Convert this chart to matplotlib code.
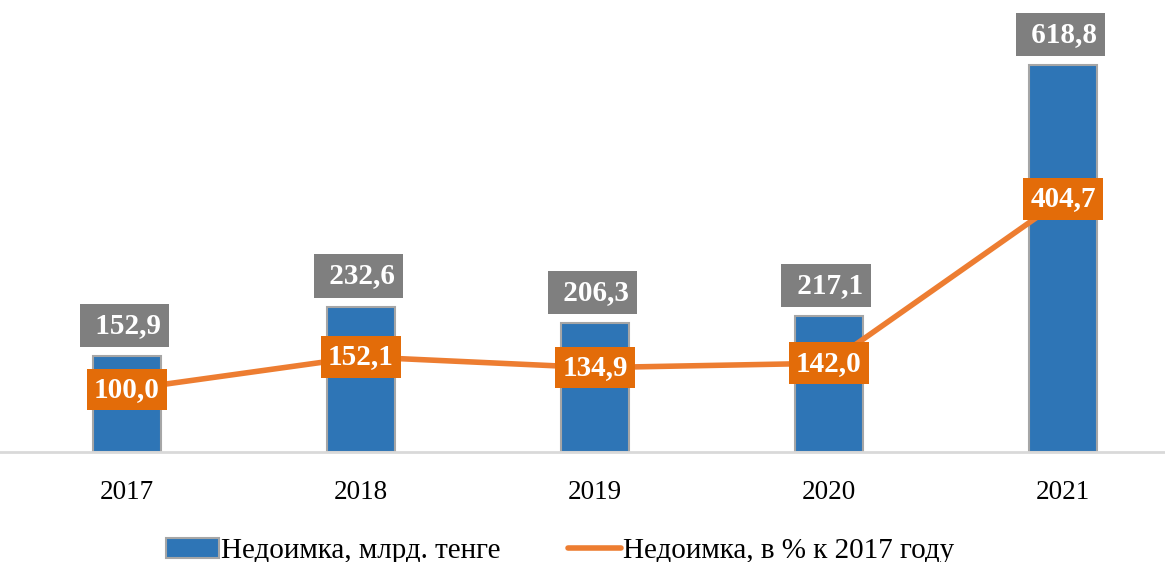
import matplotlib.pyplot as plt

years = ["2017", "2018", "2019", "2020", "2021"]
arrears_bn = [152.9, 232.6, 206.3, 217.1, 618.8]
arrears_pct = [100.0, 152.1, 134.9, 142.0, 404.7]

bar_color = "#2E75B6"
line_color = "#ED7D31"
pct_box_color = "#E36C09"
val_box_color = "#7F7F7F"

plt.rcParams['font.family'] = ['Liberation Serif', 'DejaVu Serif']

fig = plt.figure(figsize=(11.65, 5.62), dpi=100)
ax = fig.add_axes([0, 110 / 562, 1, 452 / 562])

x = list(range(len(years)))
bars = ax.bar(x, arrears_bn, width=0.29, color=bar_color, edgecolor="#A6A6A6",
              linewidth=1.5, label="Недоимка, млрд. тенге", zorder=2)
line, = ax.plot(x, arrears_pct, color=line_color, linewidth=4, solid_capstyle='round',
                label="Недоимка, в % к 2017 году", zorder=3)

def fmt(v):
    return f"{v:.1f}".replace(".", ",")

# gray value labels above the bars
for xi, v in zip(x, arrears_bn):
    ax.annotate(" " + fmt(v), (xi, v), xytext=(-2, 22), textcoords="offset points",
                ha="center", va="center", color="white", fontsize=21, fontweight="bold",
                bbox=dict(boxstyle="square,pad=0.28", fc=val_box_color, ec="none"), zorder=4)

# orange percentage labels on the line points
for xi, v in zip(x, arrears_pct):
    ax.annotate(fmt(v), (xi, v), xytext=(0, 0), textcoords="offset points",
                ha="center", va="center", color="white", fontsize=21, fontweight="bold",
                bbox=dict(boxstyle="square,pad=0.25", fc=pct_box_color, ec="none"), zorder=5)

ax.set_xlim(-127 / 234, (1165 - 127) / 234)
ax.set_ylim(0, 452 / 0.6254)
ax.set_xticks(x)
ax.set_xticklabels(years, fontsize=19.5)
ax.tick_params(axis='x', length=0, pad=20)
ax.set_yticks([])
for s in ["top", "right", "left"]:
    ax.spines[s].set_visible(False)
ax.spines["bottom"].set_color("#D9D9D9")
ax.spines["bottom"].set_linewidth(2)

fig.legend([bars, line], [bars.get_label(), line.get_label()],
           loc="center", bbox_to_anchor=(0.481, 1 - 551 / 562), ncol=2, frameon=False,
           fontsize=21, handlelength=1.8, handletextpad=0.1, columnspacing=2.3)

fig.savefig("out.png", dpi=100)
